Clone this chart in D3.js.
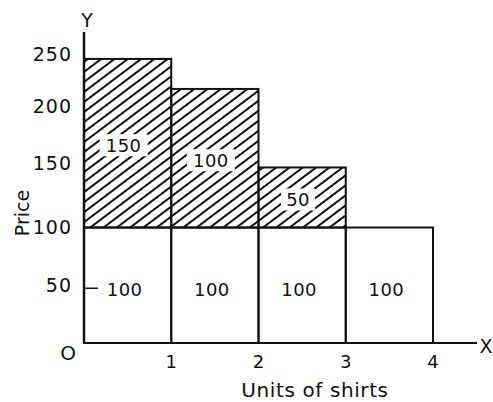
<!DOCTYPE html>
<html>
<head>
<meta charset="utf-8">
<script src="https://cdn.jsdelivr.net/npm/d3@7"></script>
<style>
  body { margin: 0; background: #fff; }
  text { font-family: "DejaVu Sans", sans-serif; fill: #111; }
</style>
</head>
<body>
<svg width="493" height="402"></svg>
<script>
// data
const units = [1, 2, 3, 4];                 // unit of shirt bought
const prices = [246, 220, 152, 100];        // height of each bar (as drawn)
const marketPrice = 100;
const surplusLabels = ["150", "100", "50", ""];
const paidLabels = ["100", "100", "100", "100"];
const yTicks = [50, 100, 150, 200, 250];
const xTicks = [1, 2, 3, 4];

const svg = d3.select("svg");

const x = d3.scaleLinear().domain([0, 4]).range([84, 433]);
const y = d3.scaleLinear().domain([0, 250]).range([343, 54.3]);

// hatch pattern for the surplus part
const defs = svg.append("defs");
defs.append("pattern")
    .attr("id", "hatch")
    .attr("patternUnits", "userSpaceOnUse")
    .attr("width", 8).attr("height", 8)
    .attr("patternTransform", "rotate(-37)")
  .append("line")
    .attr("x1", 0).attr("y1", 4).attr("x2", 8).attr("y2", 4)
    .attr("stroke", "#111").attr("stroke-width", 2);

const bars = svg.append("g");

// hatched part (price above market price)
bars.selectAll(".surplus").data(units.filter((u, i) => prices[i] > marketPrice))
  .enter().append("rect")
    .attr("class", "surplus")
    .attr("x", d => x(d - 1))
    .attr("y", d => y(prices[d - 1]))
    .attr("width", d => x(d) - x(d - 1))
    .attr("height", d => y(marketPrice) - y(prices[d - 1]))
    .attr("fill", "url(#hatch)")
    .attr("stroke", "#111").attr("stroke-width", 2);

// white part (price actually paid)
bars.selectAll(".paid").data(units)
  .enter().append("rect")
    .attr("class", "paid")
    .attr("x", d => x(d - 1))
    .attr("y", y(marketPrice))
    .attr("width", d => x(d) - x(d - 1))
    .attr("height", y(0) - y(marketPrice))
    .attr("fill", "none")
    .attr("stroke", "#111").attr("stroke-width", 2);

// labels inside the hatched part, on white patches
const sl = svg.append("g").selectAll("g").data(units.filter((u, i) => surplusLabels[i]))
  .enter().append("g")
    .attr("transform", d => `translate(${(x(d - 1) + x(d)) / 2 - 4}, ${(y(prices[d - 1]) + y(marketPrice)) / 2 + 2})`);
sl.append("rect")
    .attr("x", d => -surplusLabels[d - 1].length * 7 - 3)
    .attr("y", -11).attr("height", 22)
    .attr("width", d => surplusLabels[d - 1].length * 14 + 6)
    .attr("fill", "#fff");
sl.append("text")
    .attr("text-anchor", "middle")
    .attr("dy", "0.35em")
    .attr("font-size", 18)
    .attr("letter-spacing", 0.5)
    .text(d => surplusLabels[d - 1]);

svg.append("g").selectAll("text").data(units)
  .enter().append("text")
    .attr("x", d => (x(d - 1) + x(d)) / 2 - 3)
    .attr("y", (y(marketPrice) + y(0)) / 2 + 4)
    .attr("text-anchor", "middle")
    .attr("dy", "0.35em")
    .attr("font-size", 18)
    .attr("letter-spacing", 0.5)
    .text((d, i) => paidLabels[i]);

// axes
svg.append("line")
    .attr("x1", x(0)).attr("x2", x(0))
    .attr("y1", y(0)).attr("y2", 32)
    .attr("stroke", "#111").attr("stroke-width", 2.5);
svg.append("line")
    .attr("x1", x(0)).attr("x2", 477)
    .attr("y1", y(0)).attr("y2", y(0))
    .attr("stroke", "#111").attr("stroke-width", 2.2);

svg.append("line")
    .attr("x1", x(0)).attr("x2", x(0) + 14)
    .attr("y1", y(50) + 3).attr("y2", y(50) + 3)
    .attr("stroke", "#111").attr("stroke-width", 1.5);

svg.append("g").selectAll("text").data(yTicks)
  .enter().append("text")
    .attr("x", 72)
    .attr("y", d => y(d) - (d === 150 || d === 200 ? 6 : 0))
    .attr("dy", "0.35em")
    .attr("text-anchor", "end")
    .attr("font-size", 19)
    .attr("letter-spacing", 1)
    .text(d => d);

svg.append("g").selectAll("text").data(xTicks)
  .enter().append("text")
    .attr("x", d => x(d))
    .attr("y", y(0) + 19)
    .attr("dy", "0.35em")
    .attr("text-anchor", "middle")
    .attr("font-size", 18)
    .text(d => d);

svg.append("text").attr("x", 68).attr("y", y(0) + 10).attr("dy", "0.35em")
    .attr("text-anchor", "middle").attr("font-size", 20).text("O");
svg.append("text").attr("x", 87).attr("y", 20).attr("dy", "0.35em")
    .attr("text-anchor", "middle").attr("font-size", 19).text("Y");
svg.append("text").attr("x", 486).attr("y", 346).attr("dy", "0.35em")
    .attr("text-anchor", "middle").attr("font-size", 19).text("X");

svg.append("text")
    .attr("transform", "translate(22, 213) rotate(-90)")
    .attr("dy", "0.35em")
    .attr("text-anchor", "middle")
    .attr("font-size", 19)
    .text("Price");

svg.append("text")
    .attr("x", 315).attr("y", 390)
    .attr("dy", "0.35em")
    .attr("text-anchor", "middle")
    .attr("font-size", 20)
    .attr("letter-spacing", 0.6)
    .text("Units of shirts");
</script>
</body>
</html>
